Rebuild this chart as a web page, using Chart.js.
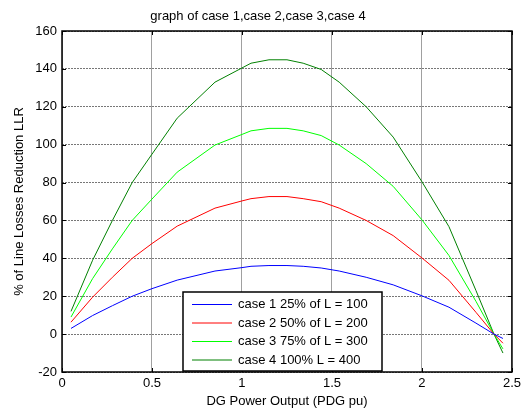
<!DOCTYPE html>
<html>
<head>
<meta charset="utf-8">
<script src="https://cdn.jsdelivr.net/npm/chart.js@4.4.1/dist/chart.umd.min.js"></script>
<style>
  html, body { margin: 0; padding: 0; background: #fff; }
  #wrap { width: 525px; height: 409px; }
</style>
</head>
<body>
<div id="wrap"><canvas id="chart" width="525" height="409"></canvas></div>
<script>
// values
const xValues = [0.05, 0.17, 0.28, 0.39, 0.5, 0.64, 0.85, 1.0, 1.05, 1.15, 1.25, 1.34, 1.44, 1.54, 1.69, 1.84, 2.0, 2.15, 2.3, 2.4, 2.45]
const case1 = [3, 9.8, 15, 20, 24, 28.5, 33.3, 35.1, 35.8, 36.2, 36.2, 35.8, 34.9, 33.3, 30, 26, 20.2, 14.2, 5.8, 0, -2.3]
const case2 = [6.3, 19.5, 30, 40, 47.8, 57, 66.5, 70.3, 71.5, 72.6, 72.6, 71.5, 69.9, 66.5, 60, 52, 40.2, 28.4, 11.5, 0, -4.8]
const case3 = [9, 29.3, 45, 60, 71.3, 85.5, 99.8, 105.4, 107.3, 108.6, 108.6, 107.3, 104.8, 99.8, 90, 78, 60.3, 41.5, 17.3, 0, -7.8]
const case4 = [12, 39, 60, 80, 95, 114, 133, 140.5, 143, 144.8, 144.8, 143, 139.7, 133, 120, 104, 80.4, 56.7, 23, 0, -10]

const seriesLabels = ['case 1 25% of L = 100', 'case 2 50% of L = 200', 'case 3 75% of L = 300', 'case 4 100% L = 400']
const seriesColors = ['#0000ff', '#ff0000', '#00ff00', '#008000']
const xTicks = [0, 0.5, 1, 1.5, 2, 2.5]
const yTicks = [-20, 0, 20, 40, 60, 80, 100, 120, 140, 160]

const FONT = 'Liberation Sans, Arial, sans-serif'
Chart.defaults.font.family = FONT
Chart.defaults.font.size = 13
Chart.defaults.color = '#000'

const toPoints = (ys) => xValues.map((x, i) => ({ x, y: ys[i] }))

// matlab style box, inward ticks and legend inside the axes
const frame = {
  id: 'frame',
  afterDraw(chart) {
    const { ctx, chartArea: a, scales } = chart
    const x = scales.x
    const y = scales.y
    ctx.save()
    ctx.strokeStyle = '#000'
    ctx.lineWidth = 1
    const tl = 4
    ctx.beginPath()
    xTicks.forEach((v) => {
      const px = Math.round(x.getPixelForValue(v)) + 0.5
      ctx.moveTo(px, a.bottom); ctx.lineTo(px, a.bottom - tl)
      ctx.moveTo(px, a.top); ctx.lineTo(px, a.top + tl)
    })
    yTicks.forEach((v) => {
      const py = Math.round(y.getPixelForValue(v)) + 0.5
      ctx.moveTo(a.left, py); ctx.lineTo(a.left + tl, py)
      ctx.moveTo(a.right, py); ctx.lineTo(a.right - tl, py)
    })
    ctx.stroke()
    ctx.lineWidth = 1.5
    ctx.strokeRect(a.left, a.top, a.right - a.left, a.bottom - a.top)

    // legend
    const lx = 183, ly = 292, lw = 199, lh = 79
    ctx.fillStyle = '#fff'
    ctx.fillRect(lx, ly, lw, lh)
    ctx.lineWidth = 1.5
    ctx.strokeRect(lx, ly, lw, lh)
    ctx.font = '13px ' + FONT
    ctx.textBaseline = 'middle'
    ctx.textAlign = 'left'
    chart.data.datasets.forEach((ds, i) => {
      const ry = ly + 12.5 + i * 18.5
      ctx.strokeStyle = ds.borderColor
      ctx.lineWidth = 1
      ctx.beginPath()
      ctx.moveTo(192, ry); ctx.lineTo(232, ry)
      ctx.stroke()
      ctx.fillStyle = '#000'
      ctx.fillText(ds.label, 238, ry)
    })
    ctx.restore()
  },
}

const datasets = [case1, case2, case3, case4].map((ys, i) => ({
  label: seriesLabels[i],
  data: toPoints(ys),
  borderColor: seriesColors[i],
  backgroundColor: seriesColors[i],
  borderWidth: 1,
  pointRadius: 0,
  tension: 0,
  fill: false,
}))

new Chart(document.getElementById('chart'), {
  type: 'line',
  data: { datasets },
  options: {
    responsive: false,
    animation: false,
    devicePixelRatio: 1,
    layout: { autoPadding: false, padding: { top: 0, right: 9, bottom: 0, left: 0 } },
    plugins: {
      legend: { display: false },
      tooltip: { enabled: false },
      title: {
        display: true,
        text: 'graph of case 1,case 2,case 3,case 4',
        font: { size: 13, weight: 'normal' },
        color: '#000',
        padding: { top: 9, bottom: 6.4 },
      },
    },
    scales: {
      x: {
        type: 'linear',
        min: 0,
        max: 2.5,
        afterBuildTicks: (s) => { s.ticks = xTicks.map((v) => ({ value: v })) },
        afterFit: (s) => { s.height = 37 },
        ticks: { padding: 4, maxRotation: 0, callback: (v) => String(v) },
        grid: { color: '#a0a0a0', drawTicks: false, lineWidth: 1 },
        border: { display: false },
        title: { display: true, text: 'DG Power Output (PDG pu)', padding: { top: 0, bottom: 0 } },
      },
      y: {
        min: -20,
        max: 160,
        afterBuildTicks: (s) => { s.ticks = yTicks.map((v) => ({ value: v })) },
        afterFit: (s) => { s.width = 62 },
        ticks: { padding: 5, callback: (v) => String(v) },
        grid: { color: '#777', drawTicks: false, lineWidth: 1 },
        border: { display: false, dash: [2, 1] },
        title: { display: true, text: '% of Line Losses Reduction LLR', padding: { top: 12, bottom: 0 } },
      },
    },
  },
  plugins: [frame],
})
</script>
</body>
</html>
